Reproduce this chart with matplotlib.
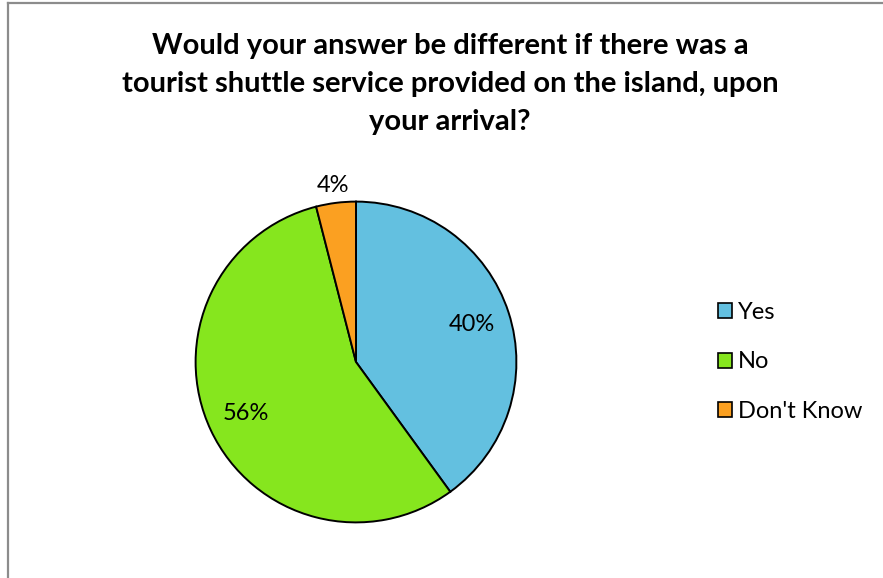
import numpy as np
import matplotlib
matplotlib.use("Agg")
import matplotlib.pyplot as plt
from matplotlib.lines import Line2D
from matplotlib.patches import Patch

# Respostas da pesquisa
categorias = ["Yes", "No", "Don't Know"]
percentuais = [40, 56, 4]
cores = ["#63C0E0", "#86E61E", "#FBA021"]
titulo = ("Would your answer be different if there was a\n"
          "tourist shuttle service provided on the island, upon\n"
          "your arrival?")

plt.rcParams['font.family'] = ['Lato', 'DejaVu Sans']

fig = plt.figure(figsize=(8.83, 5.78), dpi=100)

# Moldura cinza (esquerda e topo)
fig.add_artist(Line2D([8 / 883, 8 / 883], [0, 1 - 3 / 578], color="#8c8c8c", lw=1.6,
                      transform=fig.transFigure))
fig.add_artist(Line2D([8 / 883, 1], [1 - 3 / 578, 1 - 3 / 578], color="#8c8c8c", lw=1.6,
                      transform=fig.transFigure))

fig.text(450 / 883, 1 - 84 / 578, titulo, ha="center", va="center", fontsize=21,
         fontweight="bold", linespacing=1.55)

ax = fig.add_axes([194 / 883, (578 - 524) / 578, 324 / 883, 324 / 578])
wedges, textos, autotextos = ax.pie(
    percentuais, colors=cores, startangle=90, counterclock=False,
    autopct=lambda p: f"{p:.0f}%", pctdistance=0.76,
    wedgeprops=dict(edgecolor="black", linewidth=1.4),
    textprops=dict(fontsize=17, color="black"))
ax.set_aspect("equal")
ax.set_xlim(-1.01, 1.01)
ax.set_ylim(-1.01, 1.01)

# Rótulo da fatia pequena fica fora do círculo
w = wedges[2]
ang = np.deg2rad((w.theta1 + w.theta2) / 2)
autotextos[2].set_position((1.12 * np.cos(ang), 1.11 * np.sin(ang)))

handles = [Patch(facecolor=c, edgecolor="black", linewidth=1.2) for c in cores]
fig.legend(handles, categorias, loc="center left", bbox_to_anchor=(697 / 883, 1 - 362 / 578),
           frameon=False, fontsize=17, handlelength=0.6, handleheight=0.6,
           handletextpad=0.25, labelspacing=1.2)

fig.savefig("out.png", dpi=100)
